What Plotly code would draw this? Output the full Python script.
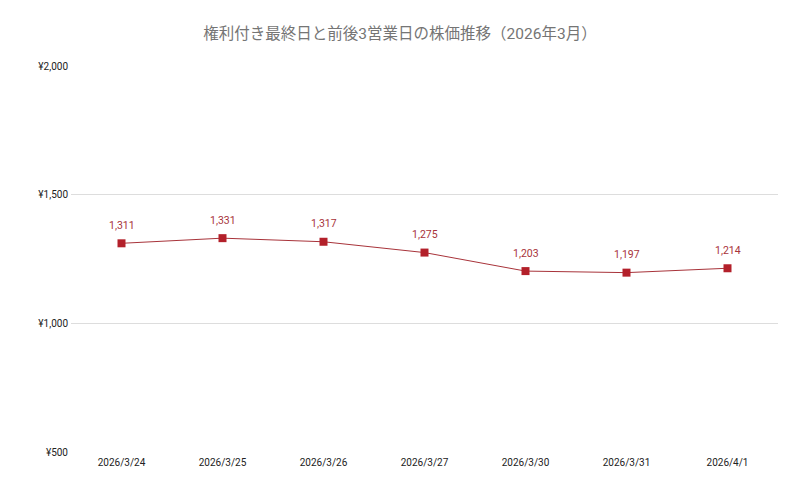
"""権利付き最終日と前後3営業日の株価推移 (line chart)."""

import plotly.graph_objects as go

# Data
dates = ["2026/3/24", "2026/3/25", "2026/3/26", "2026/3/27", "2026/3/30", "2026/3/31", "2026/4/1"]
prices = [1311, 1331, 1317, 1275, 1203, 1197, 1214]
y_ticks = [500, 1000, 1500, 2000]
y_tick_labels = ["¥500", "¥1,000", "¥1,500", "¥2,000"]

COLORS = {
    "line": "#a8333a",
    "marker": "#b3202a",
    "label": "#a8333a",
    "title": "#757575",
    "tick": "#222222",
    "grid": "#dddddd",
}

fig = go.Figure()

fig.add_trace(
    go.Scatter(
        x=dates,
        y=prices,
        mode="lines+markers",
        line={"color": COLORS["line"], "width": 1},
        marker={"symbol": "square", "size": 8, "color": COLORS["marker"]},
        hoverinfo="x+y",
        showlegend=False,
    )
)

# Data labels above each point
for d, p in zip(dates, prices):
    fig.add_annotation(
        x=d,
        y=p,
        text=f"{p:,}",
        showarrow=False,
        yshift=18,
        font={"family": "Roboto", "size": 10.5, "color": COLORS["label"]},
    )

fig.update_layout(
    title={
        "text": "権利付き最終日と前後3営業日の株価推移（2026年3月）",
        "font": {"family": "Roboto, Noto Sans CJK JP", "size": 15.5, "color": COLORS["title"]},
        "x": 0.5,
        "xanchor": "center",
        "y": 1 - 26 / 494,
        "yanchor": "middle",
    },
    height=494,
    paper_bgcolor="white",
    plot_bgcolor="white",
    font={"family": "Roboto, Noto Sans CJK JP", "size": 10, "color": COLORS["tick"]},
    # page body adds an 8px offset, so margins are shifted accordingly
    margin={"t": 58, "b": 50, "l": 63, "r": 14},
)

fig.update_xaxes(
    type="category",
    range=[-0.5, len(dates) - 0.5],
    showgrid=False,
    showline=False,
    ticks="",
    ticklabelstandoff=3,
    tickfont={"size": 10, "color": COLORS["tick"]},
)

fig.update_yaxes(
    range=[500, 2000],
    tickvals=y_ticks,
    ticktext=y_tick_labels,
    showgrid=True,
    gridcolor=COLORS["grid"],
    gridwidth=1,
    zeroline=False,
    showline=False,
    ticks="",
    ticklabelstandoff=2,
    tickfont={"size": 10, "color": COLORS["tick"]},
)

fig.write_html("out.html")
